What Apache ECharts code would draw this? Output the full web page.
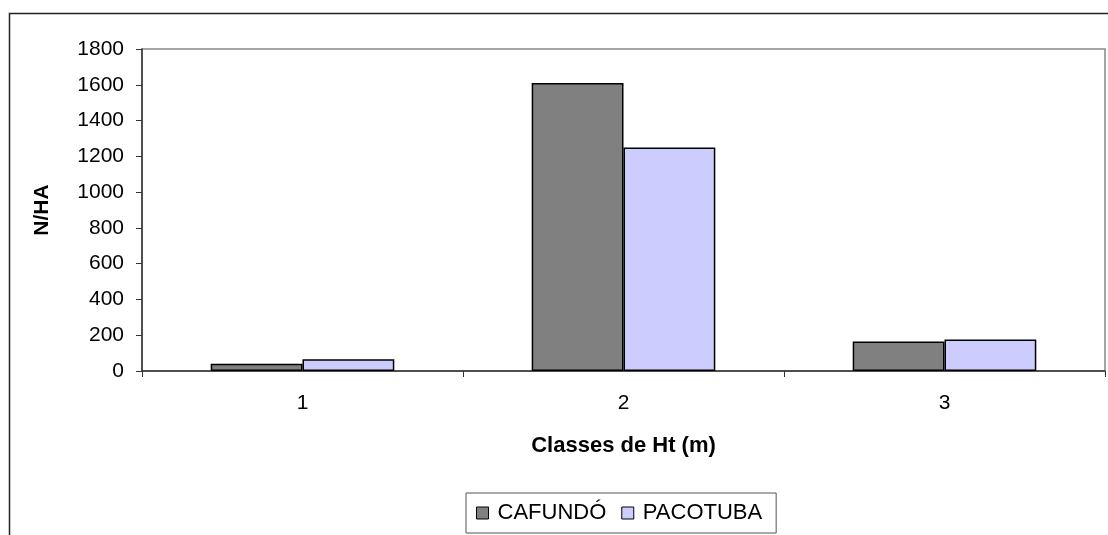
<!DOCTYPE html>
<html>
<head>
<meta charset="utf-8">
<script src="https://cdn.jsdelivr.net/npm/echarts@6/dist/echarts.min.js"></script>
<style>
  html, body { margin: 0; padding: 0; background: #fff; }
  #chart { width: 1108px; height: 535px; }
</style>
</head>
<body>
<div id="chart"></div>
<script>
// classes de altura
const categories = ["1", "2", "3"];
const cafundo = [40, 1610, 165];
const pacotuba = [65, 1250, 176];
const yTicks = { min: 0, max: 1800, interval: 200 };

const font = "'Liberation Sans', Arial, sans-serif";

const chart = echarts.init(document.getElementById("chart"));
const option = {
  backgroundColor: "#fff",
  animation: false,
  textStyle: { fontFamily: font },
  graphic: [
    {
      // moldura externa do grafico
      type: "rect",
      left: 7,
      top: 11,
      shape: { width: 1200, height: 600 },
      style: { fill: "none", stroke: "#222", lineWidth: 1.5 },
      silent: true,
    },
  ],
  grid: {
    left: 142,
    right: 3,
    top: 49,
    bottom: 164,
    show: true,
    borderColor: "#888",
    borderWidth: 1.5,
  },
  legend: {
    bottom: 2,
    left: 466,
    icon: "rect",
    itemWidth: 12,
    itemHeight: 12,
    itemGap: 15,
    padding: [9, 14, 9, 10],
    borderColor: "#555",
    borderWidth: 1,
    textStyle: { fontFamily: font, fontSize: 22, color: "#000", padding: [0, 0, 0, 4] },
    itemStyle: { borderColor: "#000", borderWidth: 1 },
    data: ["CAFUNDÓ", "PACOTUBA"],
  },
  xAxis: {
    type: "category",
    data: categories,
    name: "Classes de Ht (m)",
    nameLocation: "middle",
    nameGap: 64,
    nameTextStyle: { fontFamily: font, fontSize: 22, fontWeight: "bold", color: "#000" },
    axisLine: { lineStyle: { color: "#333", width: 1.5 } },
    axisTick: { show: true, length: 6, lineStyle: { color: "#333" } },
    axisLabel: { fontFamily: font, fontSize: 21, color: "#000", margin: 22 },
  },
  yAxis: {
    type: "value",
    min: yTicks.min,
    max: yTicks.max,
    interval: yTicks.interval,
    name: "N/HA",
    nameLocation: "middle",
    nameGap: 89,
    nameTextStyle: { fontFamily: font, fontSize: 21, fontWeight: "bold", color: "#000" },
    axisLine: { show: true, lineStyle: { color: "#333", width: 1.5 } },
    axisTick: { show: true, length: 6, lineStyle: { color: "#333" } },
    axisLabel: {
      fontFamily: font,
      fontSize: 21,
      color: "#000",
      margin: 18,
      formatter: (v) => String(v),
    },
    splitLine: { show: false },
  },
  series: [
    {
      name: "CAFUNDÓ",
      type: "bar",
      data: cafundo,
      barGap: "0%",
      barCategoryGap: "42.8%",
      itemStyle: { color: "#808080", borderColor: "#000", borderWidth: 1.5 },
    },
    {
      name: "PACOTUBA",
      type: "bar",
      data: pacotuba,
      barGap: "0%",
      barCategoryGap: "42.8%",
      itemStyle: { color: "#CCCCFF", borderColor: "#000", borderWidth: 1.5 },
    },
  ],
};
chart.setOption(option);
</script>
</body>
</html>
